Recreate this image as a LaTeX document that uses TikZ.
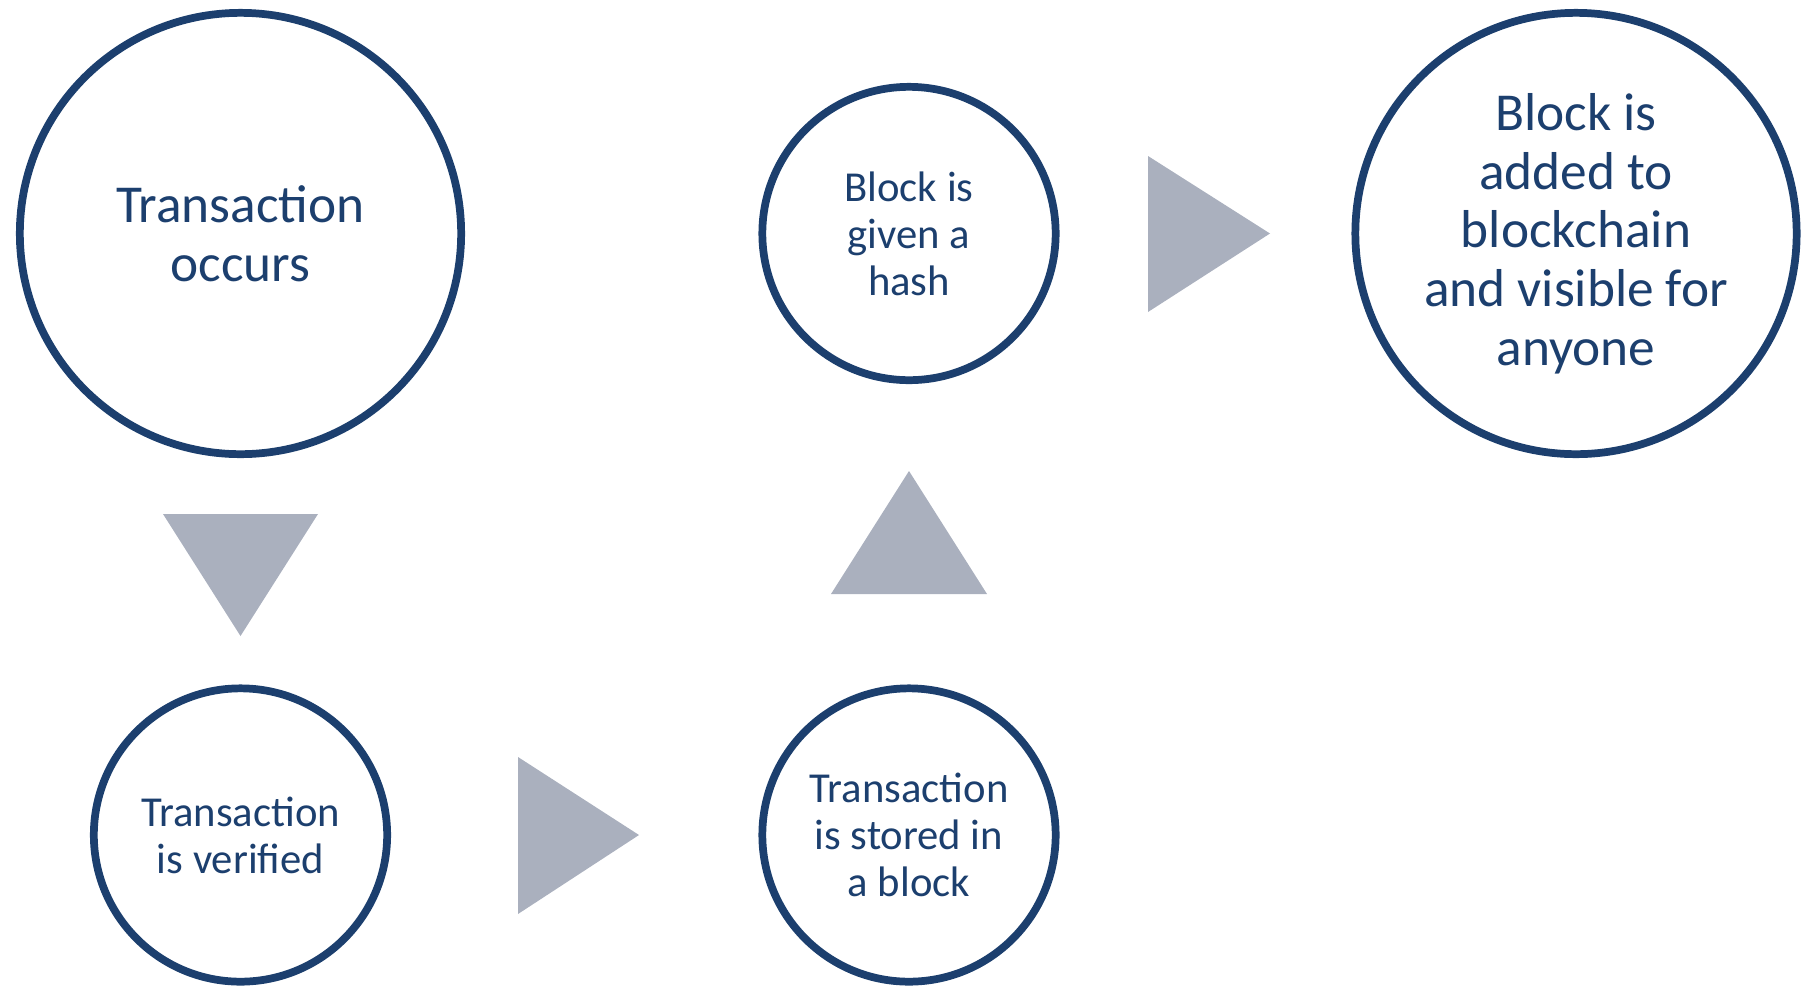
\documentclass[tikz,border=0pt]{standalone}
\usepackage{fontspec}
\setmainfont{Carlito}
\definecolor{stepblue}{RGB}{28, 63, 110}
\definecolor{arrowgray}{RGB}{170, 176, 190}
\usetikzlibrary{positioning}

\begin{document}
\begin{tikzpicture}[x=0.75pt, y=-0.75pt,
    stage/.style={circle, draw=stepblue, line width=5.8pt, fill=white, text=stepblue, align=center, inner sep=0pt},
    bigstage/.style={stage, minimum size=331pt, font=\fontsize{40}{44}\selectfont},
    smallstage/.style={stage, minimum size=220pt, font=\fontsize{32}{35.3}\selectfont},
    pointer/.style={fill=arrowgray}]
  \useasboundingbox (0,0) rectangle (1804,990);

  % Stages
  \node[bigstage] (occurs) at (240.5, 233.5) {Transaction\\occurs};
  \node[smallstage] (verified) at (240.5, 835) {Transaction\\is verified};
  \node[smallstage] (stored) at (909, 835) {Transaction\\is stored in\\a block};
  \node[smallstage] (hash) at (909, 233.5) {Block is\\given a\\hash};
  \node[bigstage] (added) at (1576, 233.5) {Block is\\added to\\blockchain\\and visible for\\anyone};

  % Pointers between the stages
  \fill[pointer] (163, 514) -- (318, 514) -- (240.5, 636) -- cycle;
  \fill[pointer] (518, 757) -- (639, 835) -- (518, 914) -- cycle;
  \fill[pointer] (831, 594) -- (909, 471) -- (987, 594) -- cycle;
  \fill[pointer] (1148, 156) -- (1270, 233.5) -- (1148, 312) -- cycle;
\end{tikzpicture}
\end{document}
